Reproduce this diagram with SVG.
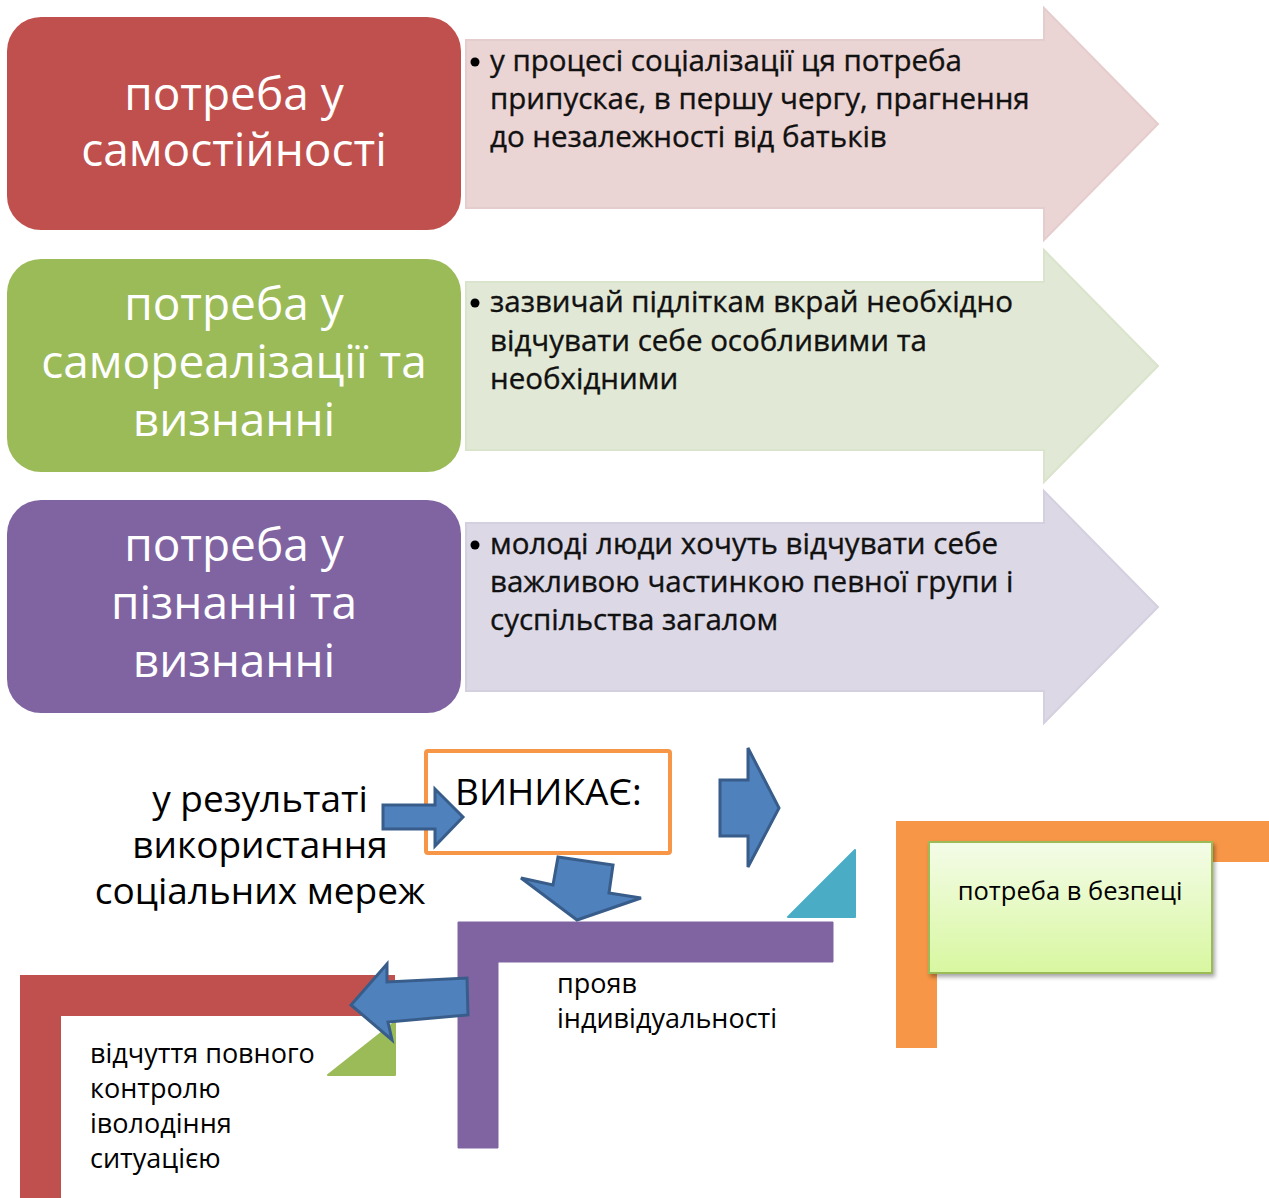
<svg xmlns="http://www.w3.org/2000/svg" width="1269" height="1198" viewBox="0 0 1269 1198">
<style>
.big{font-family:"Open Sans","Noto Sans",sans-serif;font-size:46px;fill:#fff;text-anchor:middle}
.arr{font-family:"Open Sans","Noto Sans",sans-serif;font-size:29.5px;fill:#111;stroke:#111;stroke-width:0.35}
.bot{font-family:"Open Sans","Noto Sans",sans-serif;fill:#000}
.blue{fill:#4F81BD;stroke:#385D8A;stroke-width:3;stroke-linejoin:miter}
.dot{fill:#000}
</style>
<defs>
<linearGradient id="gg" x1="0" y1="0" x2="0" y2="1">
<stop offset="0" stop-color="#F4FCE8"/>
<stop offset="1" stop-color="#D8F7A0"/>
</linearGradient>
<filter id="sh" x="-10%" y="-10%" width="130%" height="130%">
<feDropShadow dx="2" dy="3" stdDeviation="2" flood-color="#000" flood-opacity="0.35"/>
</filter>
</defs>
<rect width="1269" height="1198" fill="#fff"/>

<g id="arrow1">
<polygon points="466,40 1044,40 1044,8 1158,124 1044,240 1044,208 466,208" fill="#EBD4D4" stroke="#E6CDCD" stroke-width="2"/>
<circle class="dot" cx="475" cy="62" r="4.5"/>
<text class="arr" x="490" y="71">у процесі соціалізації ця потреба</text>
<text class="arr" x="490" y="109">припускає, в першу чергу, прагнення</text>
<text class="arr" x="490" y="147">до незалежності від батьків</text>
</g>
<g id="arrow2">
<polygon points="466,282 1044,282 1044,250 1158,366 1044,482 1044,450 466,450" fill="#E1E8D5" stroke="#DAE3CC" stroke-width="2"/>
<circle class="dot" cx="475" cy="303" r="4.5"/>
<text class="arr" x="490" y="312">зазвичай підліткам вкрай необхідно</text>
<text class="arr" x="490" y="351">відчувати себе особливими та</text>
<text class="arr" x="490" y="389">необхідними</text>
</g>
<g id="arrow3">
<polygon points="466,523 1044,523 1044,491 1158,607 1044,723 1044,691 466,691" fill="#DCD8E5" stroke="#D5D0E0" stroke-width="2"/>
<circle class="dot" cx="475" cy="545" r="4.5"/>
<text class="arr" x="490" y="554">молоді люди хочуть відчувати себе</text>
<text class="arr" x="490" y="592">важливою частинкою певної групи і</text>
<text class="arr" x="490" y="630">суспільства загалом</text>
</g>

<g id="box1">
<rect x="7" y="17" width="454" height="213" rx="34" fill="#C0504D"/>
<text class="big" x="234" y="110">потреба у</text>
<text class="big" x="234" y="166">самостійності</text>
</g>
<g id="box2">
<rect x="7" y="259" width="454" height="213" rx="34" fill="#9BBB59"/>
<text class="big" x="234" y="320">потреба у</text>
<text class="big" x="234" y="378">самореалізації та</text>
<text class="big" x="234" y="436">визнанні</text>
</g>
<g id="box3">
<rect x="7" y="500" width="454" height="213" rx="34" fill="#8064A2"/>
<text class="big" x="234" y="561">потреба у</text>
<text class="big" x="234" y="619">пізнанні та</text>
<text class="big" x="234" y="677">визнанні</text>
</g>

<g id="result-text">
<text class="bot" x="260" y="812" font-size="37" text-anchor="middle">у результаті</text>
<text class="bot" x="260" y="858" font-size="37" text-anchor="middle">використання</text>
<text class="bot" x="260" y="904" font-size="37" text-anchor="middle">соціальних мереж</text>
</g>

<g id="vynykaye">
<rect x="426" y="751" width="244" height="102" fill="#fff" stroke="#F79646" stroke-width="4" rx="2"/>
<text class="bot" x="455" y="805" font-size="37">ВИНИКАЄ:</text>
</g>

<g id="teal-triangle">
<polygon points="855,850 855,917 788,917" fill="#4BACC6" stroke="#4BACC6" stroke-width="2" stroke-linejoin="round"/>
</g>

<g id="individuality">
<path d="M458,922 H833 V962 H498 V1148 H458 Z" fill="#8064A2" stroke="#8064A2" stroke-width="1" stroke-linejoin="round"/>
<text class="bot" x="557" y="993" font-size="27">прояв</text>
<text class="bot" x="557" y="1028" font-size="27">індивідуальності</text>
</g>

<g id="control">
<path d="M20,975 H395 V1016 H61 V1198 H20 Z" fill="#C0504D"/>
<polygon points="395,1022 395,1075 328,1075" fill="#9BBB59" stroke="#9BBB59" stroke-width="2" stroke-linejoin="round"/>
<text class="bot" x="90" y="1063" font-size="27">відчуття повного</text>
<text class="bot" x="90" y="1098" font-size="27">контролю</text>
<text class="bot" x="90" y="1133" font-size="27">іволодіння</text>
<text class="bot" x="90" y="1168" font-size="27">ситуацією</text>
</g>

<g id="safety">
<path d="M896,821 H1269 V862 H937 V1048 H896 Z" fill="#F79646"/>
<rect x="929" y="842" width="283" height="131" fill="url(#gg)" stroke="#9BBB59" stroke-width="2" filter="url(#sh)"/>
<text class="bot" x="1070" y="900" font-size="25.5" text-anchor="middle">потреба в безпеці</text>
</g>

<g id="connectors">
<polygon class="blue" points="383,805 435,805 435,789 463,817 435,846 435,829 383,829"/>
<polygon class="blue" points="720,780 748,780 748,748 779,808 748,867 748,836 720,836"/>
<polygon class="blue" points="558,857 613,865 609,893 641,898 577,920 521,878 553,885"/>
<polygon class="blue" points="467,978 468,1015 388,1022 392,1040 351,1005 387,964 387,982"/>
</g>
</svg>
